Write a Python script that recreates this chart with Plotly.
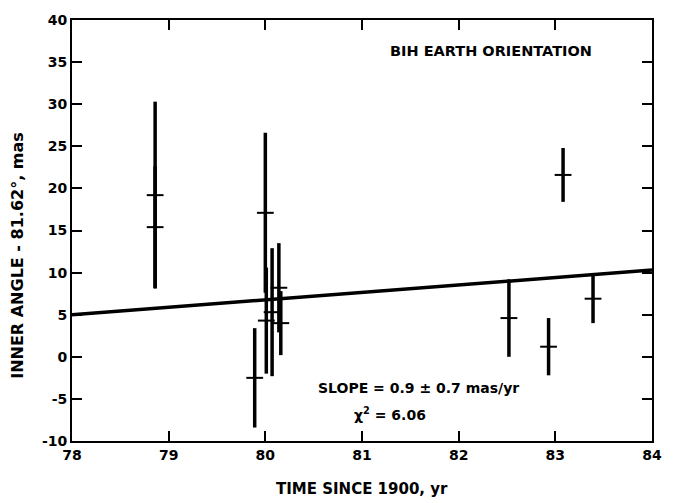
import plotly.graph_objects as go

# Data
obs_x = [78.86, 78.86, 79.89, 80.00, 80.01, 80.07, 80.14, 80.16, 82.52, 82.93, 83.08, 83.39]
obs_y = [19.2, 15.4, -2.5, 17.1, 4.3, 5.3, 8.2, 4.0, 4.6, 1.2, 21.6, 6.9]
obs_err = [11.1, 7.2, 5.9, 9.5, 6.3, 7.6, 5.3, 3.8, 4.6, 3.4, 3.2, 2.9]

fit_x = [78, 84]
fit_y = [5.0, 10.3]

x_ticks = [78, 79, 80, 81, 82, 83, 84]
y_ticks = [-10, -5, 0, 5, 10, 15, 20, 25, 30, 35, 40]

FONT = "DejaVu Sans"

fig = go.Figure()

fig.add_trace(go.Scatter(
    x=fit_x, y=fit_y, mode="lines",
    line=dict(color="black", width=3.5),
    showlegend=False, hoverinfo="skip",
))

fig.add_trace(go.Scatter(
    x=obs_x, y=obs_y, mode="markers",
    marker=dict(symbol="line-ew", size=12, color="black",
                line=dict(color="black", width=2)),
    error_y=dict(type="data", array=obs_err, visible=True,
                 color="black", thickness=3.5, width=0),
    showlegend=False,
))

axis_common = dict(
    showgrid=False, zeroline=False,
    showline=True, linecolor="black", linewidth=2,
    mirror="ticks", ticks="inside", ticklen=10, tickwidth=2, tickcolor="black",
    tickfont=dict(family="DejaVu Sans Bold, DejaVu Sans", size=14, color="black", weight=700),
)

fig.update_xaxes(range=[78, 84], tickvals=x_ticks,
                 ticktext=["<b>%d</b>" % v for v in x_ticks], **axis_common)
fig.update_yaxes(range=[-10, 40], tickvals=y_ticks,
                 ticktext=["<b>%d</b>" % v for v in y_ticks], **axis_common)

fig.add_annotation(xref="paper", yref="paper", x=0.5, y=-0.088, yanchor="top",
                   text="<b>TIME SINCE 1900, yr</b>", showarrow=False,
                   font=dict(family=FONT, size=15, color="black"))
fig.add_annotation(xref="paper", yref="paper", x=-0.093, y=0.44, xanchor="center",
                   text="<b>INNER ANGLE - 81.62°, mas</b>", textangle=-90, showarrow=False,
                   font=dict(family=FONT, size=16, color="black"))
fig.add_annotation(xref="x", yref="y", x=83.4, y=36.3, xanchor="right",
                   text="<b>BIH EARTH ORIENTATION</b>", showarrow=False,
                   font=dict(family=FONT, size=14.5, color="black"))
fig.add_annotation(xref="x", yref="y", x=80.52, y=-3.75, xanchor="left",
                   text="<b>SLOPE = 0.9 ± 0.7 mas/yr</b>", showarrow=False,
                   font=dict(family=FONT, size=14, color="black"))
fig.add_annotation(xref="x", yref="y", x=80.9, y=-6.8, xanchor="left",
                   text="<b>χ<sup>2</sup> = 6.06</b>", showarrow=False,
                   font=dict(family=FONT, size=14, color="black"))

fig.update_layout(
    width=674, height=503,
    margin=dict(l=72, r=12, t=15, b=62),
    paper_bgcolor="white", plot_bgcolor="white",
    font=dict(family=FONT, color="black"),
)

fig.write_html("out.html")
